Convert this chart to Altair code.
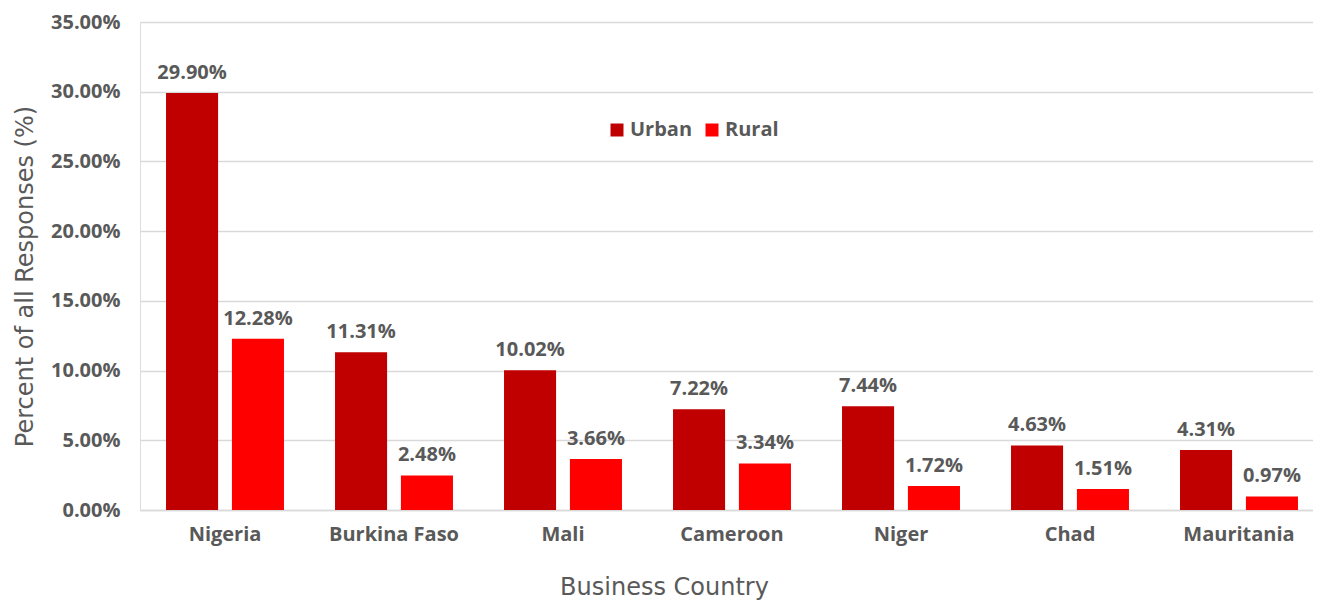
import altair as alt
import pandas as pd

countries = ["Nigeria", "Burkina Faso", "Mali", "Cameroon", "Niger", "Chad", "Mauritania"]
urban = [29.90, 11.31, 10.02, 7.22, 7.44, 4.63, 4.31]
rural = [12.28, 2.48, 3.66, 3.34, 1.72, 1.51, 0.97]
series = ["Urban", "Rural"]
colors = ["#C00000", "#FF0000"]
y_ticks = [0, 0.05, 0.10, 0.15, 0.20, 0.25, 0.30, 0.35]

rows = []
for c, u, r in zip(countries, urban, rural):
    rows.append({"country": c, "area": "Urban", "value": u / 100})
    rows.append({"country": c, "area": "Rural", "value": r / 100})
df = pd.DataFrame(rows)

FONT = "Open Sans"
TFONT = "DejaVu Sans"
GREY = "#595959"

x = alt.X(
    "country:N",
    sort=countries,
    scale=alt.Scale(paddingInner=0.302, paddingOuter=0.154, range=[0, 1184]),
    axis=alt.Axis(
        title="Business Country",
        labelAngle=0,
        labelFont=FONT,
        labelFontSize=20,
        labelFontWeight="bold",
        labelColor=GREY,
        labelPadding=14,
        ticks=False,
        domainColor="#d9d9d9",
        domainWidth=1.5,
        titleFont=TFONT,
        titleFontSize=24,
        titleFontWeight="normal",
        titleColor=GREY,
        titleX=524,
        titleY=84,
        titleAlign="center",
        titleBaseline="alphabetic",
    ),
)
xo = alt.XOffset("area:N", sort=series, scale=alt.Scale(paddingInner=0.21))
y = alt.Y(
    "value:Q",
    scale=alt.Scale(domain=[0, 0.35]),
    axis=alt.Axis(
        title="Percent of all Responses (%)",
        values=y_ticks,
        format=".2%",
        labelFont=FONT,
        labelFontSize=20,
        labelFontWeight="bold",
        labelColor=GREY,
        labelPadding=20,
        ticks=False,
        domain=False,
        gridColor="#d9d9d9",
        gridWidth=1.5,
        titleFont=TFONT,
        titleFontSize=24,
        titleFontWeight="normal",
        titleColor=GREY,
        titleX=-108,
        titleY=254,
        titleAlign="center",
        titleBaseline="alphabetic",
    ),
)
color = alt.Color(
    "area:N",
    sort=series,
    scale=alt.Scale(domain=series, range=colors),
    legend=alt.Legend(
        title=None,
        orient="none",
        legendX=467,
        legendY=98,
        direction="horizontal",
        symbolType="square",
        symbolSize=169,
        symbolStrokeWidth=0,
        labelFont=FONT,
        labelFontSize=20,
        labelFontWeight="bold",
        labelColor=GREY,
        labelOffset=3,
        columnPadding=9,
        padding=0,
    ),
)

bars = alt.Chart(df).mark_bar().encode(x=x, xOffset=xo, y=y, color=color)
labels = alt.Chart(df).mark_text(
    font=FONT, fontSize=20, fontWeight="bold", color=GREY, baseline="alphabetic", dy=-14
).encode(x=x, xOffset=xo, y=y, text=alt.Text("value:Q", format=".2%"))

chart = (
    alt.layer(bars, labels)
    .properties(
        width=1173,
        height=488,
        autosize=alt.AutoSizeParams(type="none"),
        padding={"left": 132, "top": 14, "right": 0, "bottom": 90},
    )
    .configure_view(stroke=None)
    .configure(background="white")
)

chart.save("out.html", embed_options={"renderer": "svg", "actions": False})
